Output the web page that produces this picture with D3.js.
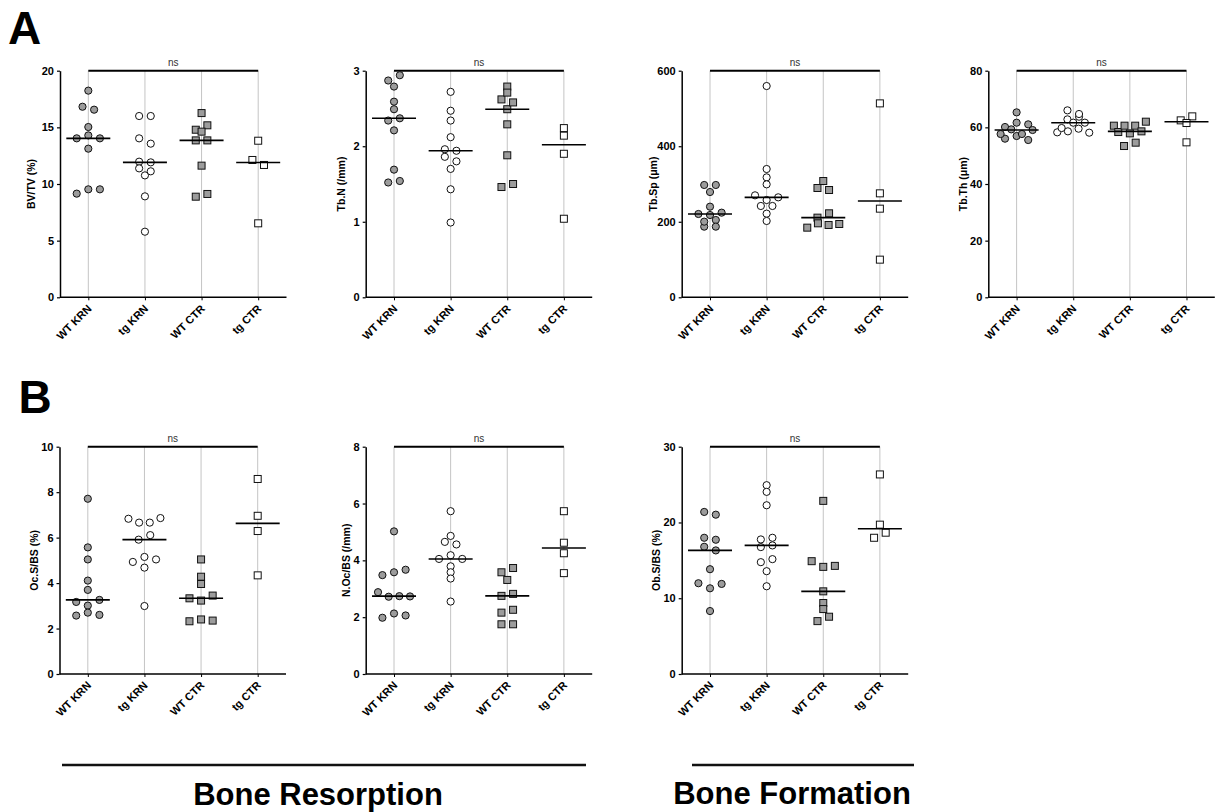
<!DOCTYPE html>
<head>
<meta charset="utf-8">
<title>Bone histomorphometry scatter plots</title>
<script src="https://d3js.org/d3.v7.min.js"></script>
<style>
  body { margin: 0; background: #fff; }
  svg text { font-family: "Liberation Sans", Arial, Helvetica, sans-serif; }
</style>
</head>
<body>
<div id="container"></div>
<script>
//-----------------------------DATA------------------------------//
// groups: WT KRN (grey circle), tg KRN (open circle), WT CTR (grey square), tg CTR (open square)
const groups = ["WT KRN", "tg KRN", "WT CTR", "tg CTR"];

// values are listed left to right as they sit in each swarm
const bvtv = [
  [16.82, 14.03, 9.15, 18.24, 16.56, 15.03, 14.29, 13.12, 9.53, 14.03, 9.53],
  [16.0, 14.03, 11.97, 11.38, 10.76, 8.91, 5.79, 16.0, 13.56, 11.91, 11.12],
  [14.79, 13.85, 8.88, 16.26, 11.62, 15.18, 14.62, 13.85, 9.12],
  [12.12, 13.82, 6.53, 11.68]
];
const tbN = [
  [2.87, 2.34, 1.52, 2.79, 2.59, 2.49, 2.21, 1.69, 2.94, 2.37, 1.54],
  [1.96, 1.86, 2.72, 2.47, 2.34, 2.12, 1.70, 1.43, 0.99, 1.94, 1.80],
  [2.62, 1.46, 2.79, 2.71, 2.49, 2.29, 1.88, 2.58, 1.50],
  [2.24, 2.14, 1.90, 1.04]
];
const tbSp = [
  [220.6, 187.1, 297.4, 278.8, 240.0, 217.9, 200.3, 297.4, 224.1, 204.7, 187.1],
  [270.0, 241.8, 559.4, 339.7, 317.6, 299.1, 257.6, 221.5, 202.1, 241.8, 264.7],
  [210.9, 184.4, 289.4, 222.4, 195.9, 307.9, 284.1, 191.5, 194.1],
  [513.5, 275.3, 234.7, 99.7]
];
const tbTh = [
  [56.0, 60.12, 57.65, 65.29, 61.65, 59.29, 56.94, 61.06, 57.65, 59.06, 55.53],
  [58.24, 62.82, 59.76, 66.0, 63.76, 61.65, 58.59, 64.71, 61.65, 59.53, 58.12],
  [60.59, 58.35, 60.59, 53.41, 60.59, 57.88, 54.59, 62.0, 58.59],
  [62.47, 54.71, 63.88, 61.53]
];
const ocS = [
  [3.17, 2.57, 7.71, 5.57, 5.04, 4.11, 3.70, 3.01, 2.70, 3.26, 2.60],
  [6.83, 6.66, 5.91, 4.93, 2.99, 6.66, 6.11, 5.15, 4.68, 6.86, 5.04],
  [3.33, 2.32, 5.04, 4.28, 3.96, 3.23, 2.40, 3.45, 2.35],
  [8.58, 6.96, 6.29, 4.34]
];
const nOc = [
  [2.88, 1.98, 3.48, 2.72, 5.02, 2.13, 3.58, 2.74, 2.06, 3.67, 2.73],
  [4.65, 4.05, 5.73, 4.86, 4.56, 4.18, 3.79, 3.58, 3.36, 2.55, 4.05],
  [3.58, 2.75, 2.16, 1.75, 3.31, 3.73, 2.82, 2.26, 1.75],
  [5.73, 4.62, 4.25, 3.55]
];
const obS = [
  [21.39, 16.79, 11.98, 17.98, 21.03, 16.31, 13.83, 11.31, 8.31, 17.72, 11.89],
  [17.76, 16.75, 14.76, 24.92, 24.04, 22.27, 13.57, 11.58, 17.98, 16.97, 15.16],
  [14.89, 6.98, 22.85, 14.14, 10.91, 9.37, 8.57, 7.56, 14.27],
  [17.98, 26.34, 19.71, 18.65]
];

const ticksBVTV = [0, 5, 10, 15, 20];
const ticksTbN = [0, 1, 2, 3];
const ticksTbSp = [0, 200, 400, 600];
const ticksTbTh = [0, 20, 40, 60, 80];
const ticksOcS = [0, 2, 4, 6, 8, 10];
const ticksNOc = [0, 2, 4, 6, 8];
const ticksObS = [0, 10, 20, 30];

//---------------------------LAYOUT------------------------------//
const W = 1215, H = 812;
const plotW = 226.5;
const rowA = {top: 70.7, bottom: 297.3};
const rowB = {top: 446.7, bottom: 674};

const panels = [
  {values: bvtv, ticks: ticksBVTV, label: "BV/TV (%)", x0: 60, row: rowA, labelDx: -28.5},
  {values: tbN, ticks: ticksTbN, label: "Tb.N (/mm)", x0: 365.7, row: rowA, labelDx: -24},
  {values: tbSp, ticks: ticksTbSp, label: "Tb.Sp (\u03bcm)", x0: 681.7, row: rowA, labelDx: -28.5},
  {values: tbTh, ticks: ticksTbTh, label: "Tb.Th (\u03bcm)", x0: 988.3, row: rowA, labelDx: -25},
  {values: ocS, ticks: ticksOcS, label: "Oc.S/BS (%)", x0: 59.5, row: rowB, labelDx: -25},
  {values: nOc, ticks: ticksNOc, label: "N.Oc/BS (/mm)", x0: 365.7, row: rowB, labelDx: -19},
  {values: obS, ticks: ticksObS, label: "Ob.S/BS (%)", x0: 681.7, row: rowB, labelDx: -25}
];

const greyFill = "#9c9c9c";
const fills = [greyFill, "#fff", greyFill, "#fff"];
const isSquare = [false, false, true, true];

let svg = d3.select("#container").append("svg")
    .attr("width", W)
    .attr("height", H);

// rows of near-equal values are spread sideways, centred on the column
function swarm(vals, y) {
  const rowGap = 5.8;
  const pts = vals.map(function(v, i) { return {v: v, i: i, py: y(v), dx: 0}; });
  const sorted = pts.slice().sort(function(a, b) { return (a.py - b.py) || (a.i - b.i); });
  let rows = [], cur = null;
  sorted.forEach(function(p) {
    if (!cur || p.py - cur[0].py > rowGap) { cur = [p]; rows.push(cur); }
    else cur.push(p);
  });
  rows.forEach(function(r) {
    r.sort(function(a, b) { return a.i - b.i; });
    const n = r.length;
    const step = n > 1 ? Math.min(11.6, 32 / (n - 1)) : 0;
    r.forEach(function(p, k) { p.dx = (k - (n - 1) / 2) * step; });
  });
  return pts;
}

//-------------------------DRAWING-------------------------------//
panels.forEach(function(p) {
  const x = d3.scalePoint().domain(groups).range([p.x0, p.x0 + plotW]).padding(0.5);
  const y = d3.scaleLinear().domain([0, p.ticks[p.ticks.length - 1]]).range([p.row.bottom, p.row.top]);
  const g = svg.append("g");

  // grey column lines
  g.selectAll(".grid").data(groups).enter().append("line")
      .attr("x1", function(d) { return x(d); })
      .attr("x2", function(d) { return x(d); })
      .attr("y1", p.row.top)
      .attr("y2", p.row.bottom)
      .attr("stroke", "#c4c4c4")
      .attr("stroke-width", 1);

  // x axis
  const xaxis = d3.axisBottom(x).tickSize(3).tickFormat("");
  const gx = g.append("g")
      .attr("transform", "translate(0," + p.row.bottom + ")")
      .call(xaxis);
  gx.select(".domain").attr("d", "M" + p.x0 + ",0H" + (p.x0 + plotW)).attr("stroke-width", 1.5);

  gx.selectAll(".cat").data(groups).enter().append("text")
      .attr("transform", function(d) { return "translate(" + (x(d) + 4) + ",12) rotate(-45)"; })
      .attr("text-anchor", "end")
      .attr("font-size", "11px")
      .attr("font-weight", "bold")
      .attr("fill", "#000")
      .text(function(d) { return d; });

  // y axis
  const yaxis = d3.axisLeft(y).tickValues(p.ticks).tickSize(3).tickPadding(3).tickSizeOuter(0)
      .tickFormat(function(d) { return d; });
  const gy = g.append("g")
      .attr("transform", "translate(" + p.x0 + ",0)")
      .call(yaxis);
  gy.select(".domain").attr("stroke-width", 1.5);
  gy.selectAll(".tick line").attr("stroke-width", 1.2);
  gy.selectAll(".tick text")
      .attr("font-size", "11px")
      .attr("font-weight", "bold");

  g.append("text")
      .attr("transform", "translate(" + (p.x0 + p.labelDx) + "," + ((p.row.top + p.row.bottom) / 2) + ") rotate(-90)")
      .attr("text-anchor", "middle")
      .attr("dy", "0.35em")
      .attr("font-size", "10.5px")
      .attr("font-weight", "bold")
      .text(p.label);

  // ns bracket
  g.append("line")
      .attr("x1", x(groups[0]))
      .attr("x2", x(groups[3]))
      .attr("y1", p.row.top)
      .attr("y2", p.row.top)
      .attr("stroke", "#000")
      .attr("stroke-width", 2);
  g.append("text")
      .attr("x", (x(groups[0]) + x(groups[3])) / 2)
      .attr("y", p.row.top - 5)
      .attr("text-anchor", "middle")
      .attr("font-size", "10px")
      .attr("fill", "#333")
      .text("ns");

  // points and medians
  p.values.forEach(function(vals, gi) {
    const cx = x(groups[gi]);
    const pts = swarm(vals, y);
    const grp = g.append("g");
    if (isSquare[gi]) {
      grp.selectAll("rect").data(pts).enter().append("rect")
          .attr("x", function(d) { return cx + d.dx - 3.5; })
          .attr("y", function(d) { return d.py - 3.5; })
          .attr("width", 7)
          .attr("height", 7)
          .attr("fill", fills[gi])
          .attr("stroke", "#111")
          .attr("stroke-width", 1);
    } else {
      grp.selectAll("circle").data(pts).enter().append("circle")
          .attr("cx", function(d) { return cx + d.dx; })
          .attr("cy", function(d) { return d.py; })
          .attr("r", 3.6)
          .attr("fill", fills[gi])
          .attr("stroke", "#111")
          .attr("stroke-width", 1);
    }
    const med = d3.median(vals);
    grp.append("line")
        .attr("x1", cx - 22)
        .attr("x2", cx + 22)
        .attr("y1", y(med))
        .attr("y2", y(med))
        .attr("stroke", "#000")
        .attr("stroke-width", 1.6);
  });
});

//-------------------------LABELS--------------------------------//
svg.append("text").attr("x", 8).attr("y", 43.5)
    .attr("font-size", "46px").attr("font-weight", "bold").text("A");
svg.append("text").attr("x", 18.5).attr("y", 413)
    .attr("font-size", "46px").attr("font-weight", "bold").text("B");

const footer = [
  {text: "Bone Resorption", x1: 62, x2: 586, ty: 805, tx: 318},
  {text: "Bone Formation", x1: 692, x2: 914, ty: 804, tx: 792}
];
footer.forEach(function(f) {
  svg.append("line")
      .attr("x1", f.x1).attr("x2", f.x2)
      .attr("y1", 765).attr("y2", 765)
      .attr("stroke", "#111")
      .attr("stroke-width", 2.6);
  svg.append("text")
      .attr("x", f.tx).attr("y", f.ty)
      .attr("text-anchor", "middle")
      .attr("font-size", "31px")
      .attr("font-weight", "bold")
      .text(f.text);
});
</script>
</body>
